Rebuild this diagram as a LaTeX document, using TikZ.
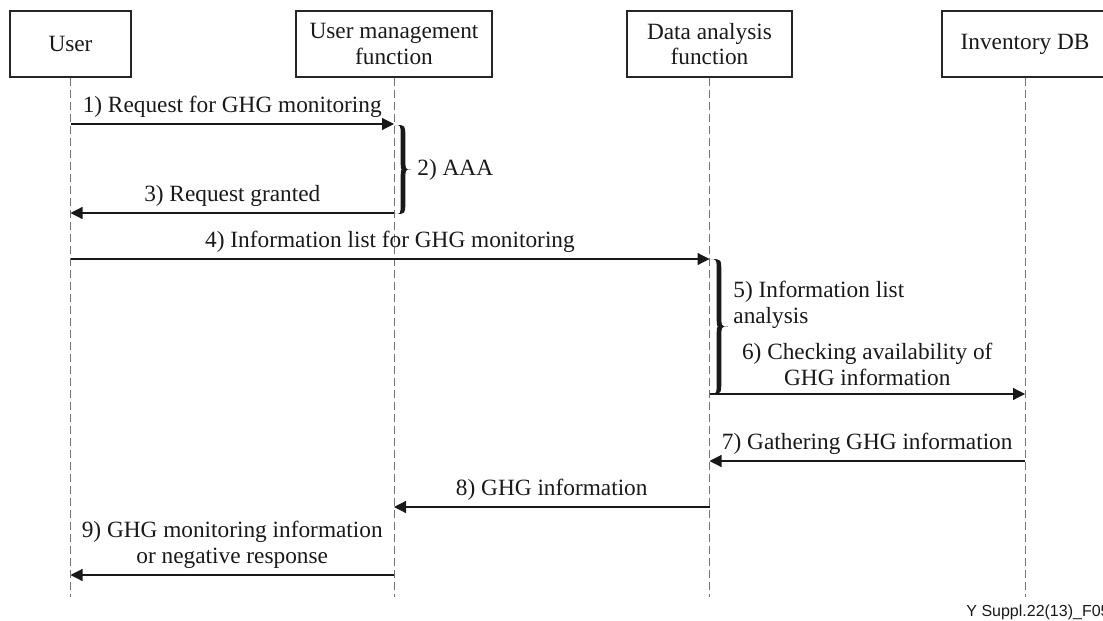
\documentclass[tikz,border=0pt]{standalone}
\usepackage{fontspec}
\setmainfont{Liberation Serif}
\newfontfamily\footfont{Liberation Sans}
\usetikzlibrary{arrows.meta}

% filled curly brace opening to the left: x0, ytop, ybottom, amplitude
\newcommand\curlybrace[4]{%
  \pgfmathsetmacro\bxa{#1}%
  \pgfmathsetmacro\bc{#1+#4/2}%
  \pgfmathsetmacro\bo{\bc+2.3}%
  \pgfmathsetmacro\bi{\bc-2.3}%
  \pgfmathsetmacro\bt{#1+#4}%
  \pgfmathsetmacro\bm{(#2+#3)/2}%
  \pgfmathsetmacro\bh{#4*0.7}%
  \fill[black!90] (\bxa,#2) .. controls (\bo,#2) .. (\bo,{#2+\bh})
    -- (\bo,{\bm-\bh}) .. controls (\bo,\bm) .. (\bt,\bm)
    .. controls (\bo,\bm) .. (\bo,{\bm+\bh})
    -- (\bo,{#3-\bh}) .. controls (\bo,#3) .. (\bxa,#3)
    .. controls (\bi,#3) .. (\bi,{#3-\bh})
    -- (\bi,{\bm+\bh}) .. controls (\bi,\bm) .. (\bc,\bm)
    .. controls (\bi,\bm) .. (\bi,{\bm-\bh})
    -- (\bi,{#2+\bh}) .. controls (\bi,#2) .. (\bxa,#2) -- cycle;
}

\begin{document}
\begin{tikzpicture}[x=0.5pt,y=-0.5pt,
  font=\fontsize{11.65pt}{12.8pt}\selectfont,
  actor/.style={draw=black!85, line width=0.7pt, minimum height=33pt,
    align=center, inner sep=0pt, text=black!90},
  lifeline/.style={draw=black!55, line width=0.5pt, dash pattern=on 4pt off 2pt},
  msg/.style={draw=black!90, line width=0.6pt,
    -{Triangle[length=6pt,width=6pt]}},
  lbl/.style={anchor=south, inner sep=0pt, align=center, text=black!90, yshift=3pt},
  note/.style={inner sep=0pt, align=left, text=black!90},
]
\useasboundingbox (0,0) rectangle (1103,621);
\clip (0,0) rectangle (1103,621);

% participants
\node[actor, minimum width=60.5pt] (user) at (70.5,44) {User};
\node[actor, minimum width=98pt]   (umf)  at (394,44)  {User management\\function};
\node[actor, minimum width=82.5pt] (daf)  at (709.5,44) {Data analysis\\function};
\node[actor, minimum width=83pt]   (inv)  at (1025,44) {Inventory DB};

% lifelines
\coordinate (end) at (0,597);
\foreach \n in {user,umf,daf,inv}
  \draw[lifeline] (\n.south) -- (\n.south |- end);

% message rows
\coordinate (r1) at (0,124);
\coordinate (r3) at (0,213);
\coordinate (r4) at (0,259);
\coordinate (r6) at (0,394);
\coordinate (r7) at (0,461);
\coordinate (r8) at (0,507);
\coordinate (r9) at (0,575);

\draw[msg] (user |- r1) -- node[midway, lbl] (l1) {1) Request for GHG monitoring} (umf |- r1);
\draw[msg] (umf |- r3) -- node[midway, lbl] (l3) {3) Request granted} (user |- r3);
\draw[msg] (user |- r4) -- node[midway, lbl] (l4) {4) Information list for GHG monitoring} (daf |- r4);
\draw[msg] (daf |- r6) -- node[midway, lbl, yshift=1pt] (l6) {6) Checking availability of\\GHG information} (inv |- r6);
\draw[msg] (inv |- r7) -- node[midway, lbl] (l7) {7) Gathering GHG information} (daf |- r7);
\draw[msg] (daf |- r8) -- node[midway, lbl] (l8) {8) GHG information} (umf |- r8);
\draw[msg] (umf |- r9) -- node[midway, lbl] (l9) {9) GHG monitoring information\\or negative response} (user |- r9);

% local processing steps
\curlybrace{395}{125}{214}{16}
\node[note, anchor=west] (l2) at (417,170) {2) AAA};

\curlybrace{710}{259}{394}{18}
\node[note, anchor=north west] (l5) at (733,281) {5) Information list\\analysis};

% figure reference
\node[inner sep=0pt, anchor=west, font=\footfont\fontsize{8pt}{9.6pt}\selectfont, text=black!90]
  (figref) at (966,612) {Y Suppl.22(13)\_F05};
\end{tikzpicture}
\end{document}
